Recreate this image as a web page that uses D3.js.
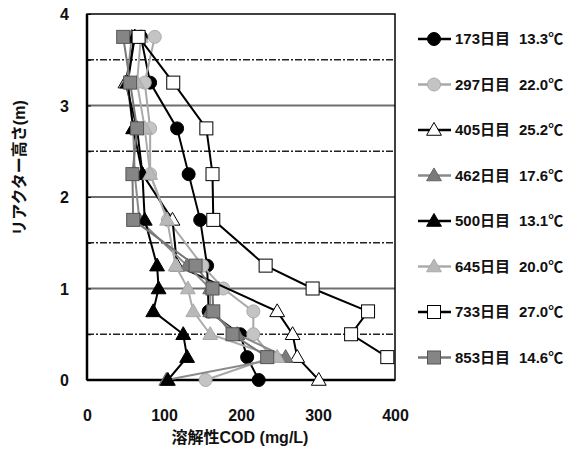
<!DOCTYPE html>
<html>
<head>
<meta charset="utf-8">
<script src="https://cdn.jsdelivr.net/npm/d3@7"></script>
<style>
  body { margin: 0; background: #fff; }
  text { font-family: "Liberation Sans", Arial, "Noto Sans CJK JP", sans-serif; font-weight: bold; fill: #111; }
</style>
</head>
<body>
<svg id="chart" width="578" height="454"></svg>
<script>
// reactor heights (m) where samples were taken
var heights = [3.75, 3.25, 2.75, 2.25, 1.75, 1.25, 1.0, 0.75, 0.5, 0.25, 0];

// soluble COD (mg/L) per run, null = no sample
var cod173 = [70, 82, 117, 132, 147, 156, null, 158, 199, 208, 223];
var cod297 = [88, 75, 82, 82, 105, 150, 177, 216, 216, 240, 154];
var cod405 = [62, 50, 65, 72, 111, 117, null, 247, 267, 273, 301];
var cod462 = [58, 52, 60, 62, 68, 130, 160, 160, 195, 258, 103];
var cod500 = [62, 53, 60, 72, 75, 91, 93, 86, 125, 130, 105];
var cod645 = [70, 65, 75, 82, 104, 115, 131, 138, 160, 247, null];
var cod733 = [67, 112, 155, 163, 164, 232, 293, 365, 343, 390, null];
var cod853 = [47, 56, 65, 59, 60, 141, 163, 164, 189, 234, null];

var seriesDays = ['173日目', '297日目', '405日目', '462日目', '500日目', '645日目', '733日目', '853日目'];
var seriesTemps = ['13.3℃', '22.0℃', '25.2℃', '17.6℃', '13.1℃', '20.0℃', '27.0℃', '14.6℃'];
var xTicks = [0, 100, 200, 300, 400];

var series = [
    { values: cod173, shape: 'circle',   line: '#000',    fill: '#000',    stroke: '#000' },
    { values: cod297, shape: 'circle',   line: '#a8a8a8', fill: '#c4c4c4', stroke: '#aaa' },
    { values: cod405, shape: 'triangle', line: '#000',    fill: '#fff',    stroke: '#000' },
    { values: cod462, shape: 'triangle', line: '#8a8a8a', fill: '#7a7a7a', stroke: '#666' },
    { values: cod500, shape: 'triangle', line: '#000',    fill: '#000',    stroke: '#000' },
    { values: cod645, shape: 'triangle', line: '#ababab', fill: '#b8b8b8', stroke: '#aaa' },
    { values: cod733, shape: 'square',   line: '#000',    fill: '#fff',    stroke: '#000' },
    { values: cod853, shape: 'square',   line: '#777',    fill: '#858585', stroke: '#555' }
];

var svg = d3.select('#chart');
var plot = { left: 87, right: 395, top: 14, bottom: 380 };

var x = d3.scaleLinear().domain([0, 400]).range([plot.left, plot.right]);
var y = d3.scaleLinear().domain([0, 4]).range([plot.bottom, plot.top]);

// grid: solid at whole metres, dashed at half metres
d3.range(0.5, 4, 0.5).forEach(function(h) {
    var whole = h % 1 === 0;
    svg.append('line')
        .attr('x1', plot.left).attr('x2', plot.right)
        .attr('y1', y(h)).attr('y2', y(h))
        .attr('stroke', whole ? '#6e6e6e' : '#222')
        .attr('stroke-width', whole ? 2 : 1.5)
        .attr('stroke-dasharray', whole ? null : '7,2,2,2');
});

// frame
svg.append('rect')
    .attr('x', plot.left).attr('y', plot.top)
    .attr('width', plot.right - plot.left).attr('height', plot.bottom - plot.top)
    .attr('fill', 'none').attr('stroke', '#000').attr('stroke-width', 1.5);
svg.append('line')
    .attr('x1', plot.left).attr('x2', plot.left).attr('y1', plot.top).attr('y2', plot.bottom)
    .attr('stroke', '#000').attr('stroke-width', 2.5);
svg.append('line')
    .attr('x1', plot.left).attr('x2', plot.right).attr('y1', plot.bottom).attr('y2', plot.bottom)
    .attr('stroke', '#000').attr('stroke-width', 2.5);

// axes
var yAxis = d3.axisLeft(y).tickValues(d3.range(0, 4.01, 0.5)).tickSize(-4)
    .tickFormat(function(d) { return d % 1 === 0 ? d : ''; });
svg.append('g').attr('transform', 'translate(' + plot.left + ',0)').call(yAxis)
    .call(function(g) {
        g.select('.domain').remove();
        g.selectAll('.tick line').attr('stroke', '#000');
        g.selectAll('text').attr('x', -18).style('font-size', '16px').attr('dy', '0.35em');
    });

var xAxis = d3.axisBottom(x).tickValues(xTicks).tickSize(0);
svg.append('g').attr('transform', 'translate(0,' + plot.bottom + ')').call(xAxis)
    .call(function(g) {
        g.select('.domain').remove();
        g.selectAll('text').attr('y', 30).style('font-size', '16px');
    });

svg.append('text')
    .attr('x', 240).attr('y', 443)
    .attr('text-anchor', 'middle').style('font-size', '16px')
    .text('溶解性COD (mg/L)');

svg.append('text')
    .attr('transform', 'translate(25,168) rotate(-90)')
    .attr('text-anchor', 'middle').style('font-size', '16px')
    .text('リアクター高さ(m)');

function drawMarker(g, shape, s, cx, cy) {
    var m;
    if (shape === 'circle') {
        m = g.append('circle').attr('cx', cx).attr('cy', cy).attr('r', 6.5);
    } else if (shape === 'square') {
        m = g.append('rect').attr('x', cx - 6.5).attr('y', cy - 6.5).attr('width', 13).attr('height', 13);
    } else {
        m = g.append('path').attr('d', d3.symbol(d3.symbolTriangle, 95)()).attr('transform', 'translate(' + cx + ',' + (cy + 1) + ')');
    }
    m.attr('fill', s.fill).attr('stroke', s.stroke).attr('stroke-width', 1);
}

var line = d3.line()
    .x(function(d) { return x(d.v); })
    .y(function(d) { return y(d.h); });

series.forEach(function(s) {
    var pts = heights.map(function(h, i) { return { h: h, v: s.values[i] }; })
        .filter(function(d) { return d.v !== null; });
    var g = svg.append('g');
    g.append('path').datum(pts).attr('d', line)
        .attr('fill', 'none').attr('stroke', s.line).attr('stroke-width', 2);
    pts.forEach(function(d) { drawMarker(g, s.shape, s, x(d.v), y(d.h)); });
});

// legend
var legend = svg.append('g');
series.forEach(function(s, i) {
    var ly = 39 + i * 45.5;
    legend.append('line').attr('x1', 418).attr('x2', 451).attr('y1', ly).attr('y2', ly)
        .attr('stroke', s.line).attr('stroke-width', 2.5);
    drawMarker(legend, s.shape, s, 434, ly);
    var t = legend.append('text').attr('y', ly).attr('dy', '0.36em').style('font-size', '15px');
    t.append('tspan').attr('x', 455).text(seriesDays[i]);
    t.append('tspan').attr('x', 519).text(seriesTemps[i]);
});
</script>
</body>
</html>
